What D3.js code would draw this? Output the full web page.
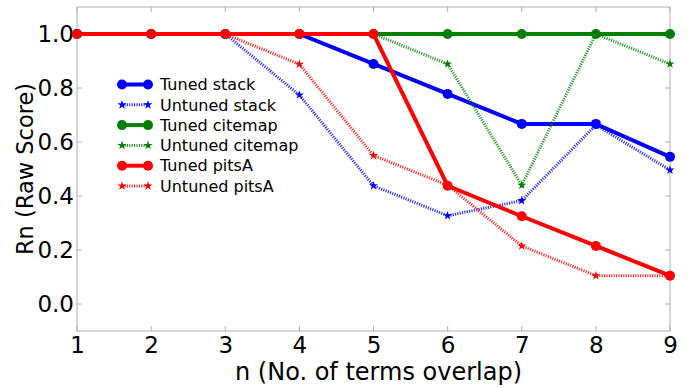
<!DOCTYPE html>
<html>
<head>
<meta charset="utf-8">
<script src="https://cdn.jsdelivr.net/npm/d3@7"></script>
<style>
  body { margin: 0; background: #fff; }
  svg, svg text { font-family: "DejaVu Sans", sans-serif; }
  .tick text { font-size: 23px; fill: #000; font-family: "DejaVu Sans", sans-serif; }
  .legend text { font-size: 16px; fill: #000; }
</style>
</head>
<body>
<svg class="chart" width="690" height="388"></svg>
<script>
const nValues = [1, 2, 3, 4, 5, 6, 7, 8, 9]
const yTicks = [0.0, 0.2, 0.4, 0.6, 0.8, 1.0]

const tunedStack = [1, 1, 1, 1, 0.889, 0.778, 0.667, 0.667, 0.545]
const untunedStack = [1, 1, 1, 0.774, 0.438, 0.327, 0.383, 0.663, 0.496]
const tunedCitemap = [1, 1, 1, 1, 1, 1, 1, 1, 1]
const untunedCitemap = [1, 1, 1, 1, 1, 0.889, 0.44, 1, 0.889]
const tunedPitsA = [1, 1, 1, 1, 1, 0.438, 0.325, 0.215, 0.105]
const untunedPitsA = [1, 1, 1, 0.888, 0.55, 0.44, 0.215, 0.105, 0.105]

const series = [
  { name: "Tuned stack", values: tunedStack, color: "#0000ff", tuned: true },
  { name: "Untuned stack", values: untunedStack, color: "#0000ff", tuned: false },
  { name: "Tuned citemap", values: tunedCitemap, color: "#008000", tuned: true },
  { name: "Untuned citemap", values: untunedCitemap, color: "#008000", tuned: false },
  { name: "Tuned pitsA", values: tunedPitsA, color: "#ff0000", tuned: true },
  { name: "Untuned pitsA", values: untunedPitsA, color: "#ff0000", tuned: false }
]

const svg = d3.select("svg.chart")
const plotLeft = 77, plotRight = 670, plotTop = 7, plotBottom = 331

const x = d3.scaleLinear().domain([1, 9]).range([plotLeft, plotRight])
const y = d3.scaleLinear().domain([-0.1, 1.1]).range([plotBottom, plotTop])

// frame
svg.append("rect")
  .attr("x", plotLeft).attr("y", plotTop)
  .attr("width", plotRight - plotLeft).attr("height", plotBottom - plotTop)
  .attr("fill", "none").attr("stroke", "#b0b0b0").attr("stroke-width", 1)

// inner tick marks on all sides
const tickLen = 5
svg.append("g").selectAll("line").data(yTicks).enter().append("line")
  .attr("x1", plotLeft).attr("x2", plotLeft + tickLen)
  .attr("y1", d => y(d)).attr("y2", d => y(d))
  .attr("stroke", "#b0b0b0")
svg.append("g").selectAll("line").data(yTicks).enter().append("line")
  .attr("x1", plotRight).attr("x2", plotRight - tickLen)
  .attr("y1", d => y(d)).attr("y2", d => y(d))
  .attr("stroke", "#b0b0b0")
svg.append("g").selectAll("line").data(nValues).enter().append("line")
  .attr("x1", d => x(d)).attr("x2", d => x(d))
  .attr("y1", plotBottom).attr("y2", plotBottom - tickLen)
  .attr("stroke", "#b0b0b0")
svg.append("g").selectAll("line").data(nValues).enter().append("line")
  .attr("x1", d => x(d)).attr("x2", d => x(d))
  .attr("y1", plotTop).attr("y2", plotTop + tickLen)
  .attr("stroke", "#b0b0b0")

// tick labels via d3 axes
const xAxis = svg.append("g")
  .attr("transform", `translate(0, ${plotBottom})`)
  .call(d3.axisBottom(x).tickValues(nValues).tickFormat(d3.format("d")).tickSize(0).tickPadding(6))
xAxis.select(".domain").remove()

const yAxis = svg.append("g")
  .attr("transform", `translate(${plotLeft}, 0)`)
  .call(d3.axisLeft(y).tickValues(yTicks).tickFormat(d3.format(".1f")).tickSize(0).tickPadding(3))
yAxis.select(".domain").remove()

svg.append("text")
  .attr("x", (plotLeft + plotRight) / 2 + 5).attr("y", 380)
  .attr("text-anchor", "middle")
  .style("font-size", "24px")
  .text("n (No. of terms overlap)")

svg.append("text")
  .attr("transform", `translate(33, ${(plotTop + plotBottom) / 2}) rotate(-90)`)
  .attr("text-anchor", "middle")
  .style("font-size", "22.5px")
  .text("Rn (Raw Score)")

// lines
const line = d3.line().x((d, i) => x(nValues[i])).y(d => y(d))
const star = d3.symbol().type(d3.symbolStar).size(26)

const plot = svg.append("g")
series.forEach(s => {
  plot.append("path")
    .datum(s.values)
    .attr("d", line)
    .attr("fill", "none")
    .attr("stroke", s.color)
    .attr("stroke-width", s.tuned ? 4 : 3)
    .attr("stroke-dasharray", s.tuned ? null : "1.2,1.2")
    .attr("stroke-opacity", s.tuned ? 1 : 0.8)
  if (s.tuned) {
    plot.append("g").selectAll("circle").data(s.values).enter().append("circle")
      .attr("cx", (d, i) => x(nValues[i]))
      .attr("cy", d => y(d))
      .attr("r", 5)
      .attr("fill", s.color)
  } else {
    plot.append("g").selectAll("path").data(s.values).enter().append("path")
      .attr("transform", (d, i) => `translate(${x(nValues[i])}, ${y(d)})`)
      .attr("d", star)
      .attr("fill", s.color)
  }
})

// legend
const legend = svg.append("g").attr("class", "legend")
  .attr("transform", "translate(122, 84.5)")
const rows = legend.selectAll("g").data(series).enter().append("g")
  .attr("transform", (d, i) => `translate(0, ${i * 20.3})`)
rows.append("line")
  .attr("x1", 0).attr("x2", 26).attr("y1", 0).attr("y2", 0)
  .attr("stroke", d => d.color)
  .attr("stroke-width", d => d.tuned ? 4 : 3)
  .attr("stroke-dasharray", d => d.tuned ? null : "1.2,1.2")
  .attr("stroke-opacity", d => d.tuned ? 1 : 0.8)
rows.each(function (d) {
  const g = d3.select(this)
  ;[0, 26].forEach(px => {
    if (d.tuned) {
      g.append("circle").attr("cx", px).attr("cy", 0).attr("r", 5).attr("fill", d.color)
    } else {
      g.append("path").attr("transform", `translate(${px}, 0)`).attr("d", star).attr("fill", d.color)
    }
  })
})
rows.append("text")
  .attr("x", 38).attr("y", 0).attr("dy", "0.36em")
  .text(d => d.name)
</script>
</body>
</html>
